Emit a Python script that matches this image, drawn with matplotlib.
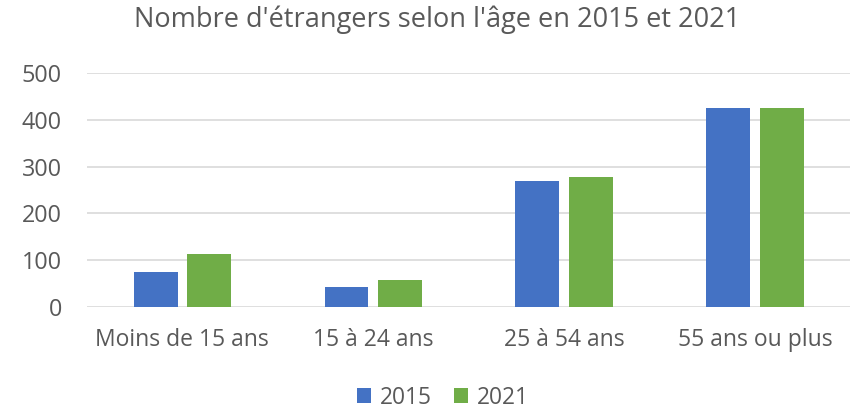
import numpy as np
import matplotlib
matplotlib.use('Agg')
import matplotlib.pyplot as plt

# Données
categories = ['Moins de 15 ans', '15 à 24 ans', '25 à 54 ans', '55 ans ou plus']
val_2015 = [76, 43, 270, 426]
val_2021 = [114, 58, 278, 426]
yticks = [0, 100, 200, 300, 400, 500]

blue = '#4472C4'
green = '#70AD47'
grey = '#595959'

plt.rcParams['font.family'] = ['Open Sans', 'DejaVu Sans']

fig = plt.figure(figsize=(8.52, 4.09), dpi=100)
ax = fig.add_axes([0.102, 0.249, 0.896, 0.5725])

x = np.arange(len(categories))
w = 0.23
gap = 0.05
ax.bar(x - (w + gap) / 2, val_2015, w, color=blue, label='2015', zorder=3)
ax.bar(x + (w + gap) / 2, val_2021, w, color=green, label='2021', zorder=3)

ax.set_xlim(-0.5, len(categories) - 0.5)
ax.set_ylim(0, 500)
ax.set_yticks(yticks)
ax.set_xticks(x)
ax.set_xticklabels(categories)
ax.yaxis.grid(True, color='#D9D9D9', linewidth=1.2, zorder=0)
for s in ax.spines.values():
    s.set_visible(False)
ax.tick_params(axis='both', length=0, colors=grey)
ax.tick_params(axis='y', pad=18, labelsize=16.8)
ax.tick_params(axis='x', pad=15, labelsize=16.5)

fig.text(0.5135, 0.934, "Nombre d'étrangers selon l'âge en 2015 et 2021",
         ha='center', va='baseline', fontsize=19.5, color=grey)

fig.legend(loc='center', bbox_to_anchor=(0.52, 0.028), ncol=2, frameon=False,
           fontsize=16.4, labelcolor=grey, handlelength=0.6, handleheight=0.6,
           handletextpad=0.4, columnspacing=1.0)

fig.savefig('out.png', dpi=100)
